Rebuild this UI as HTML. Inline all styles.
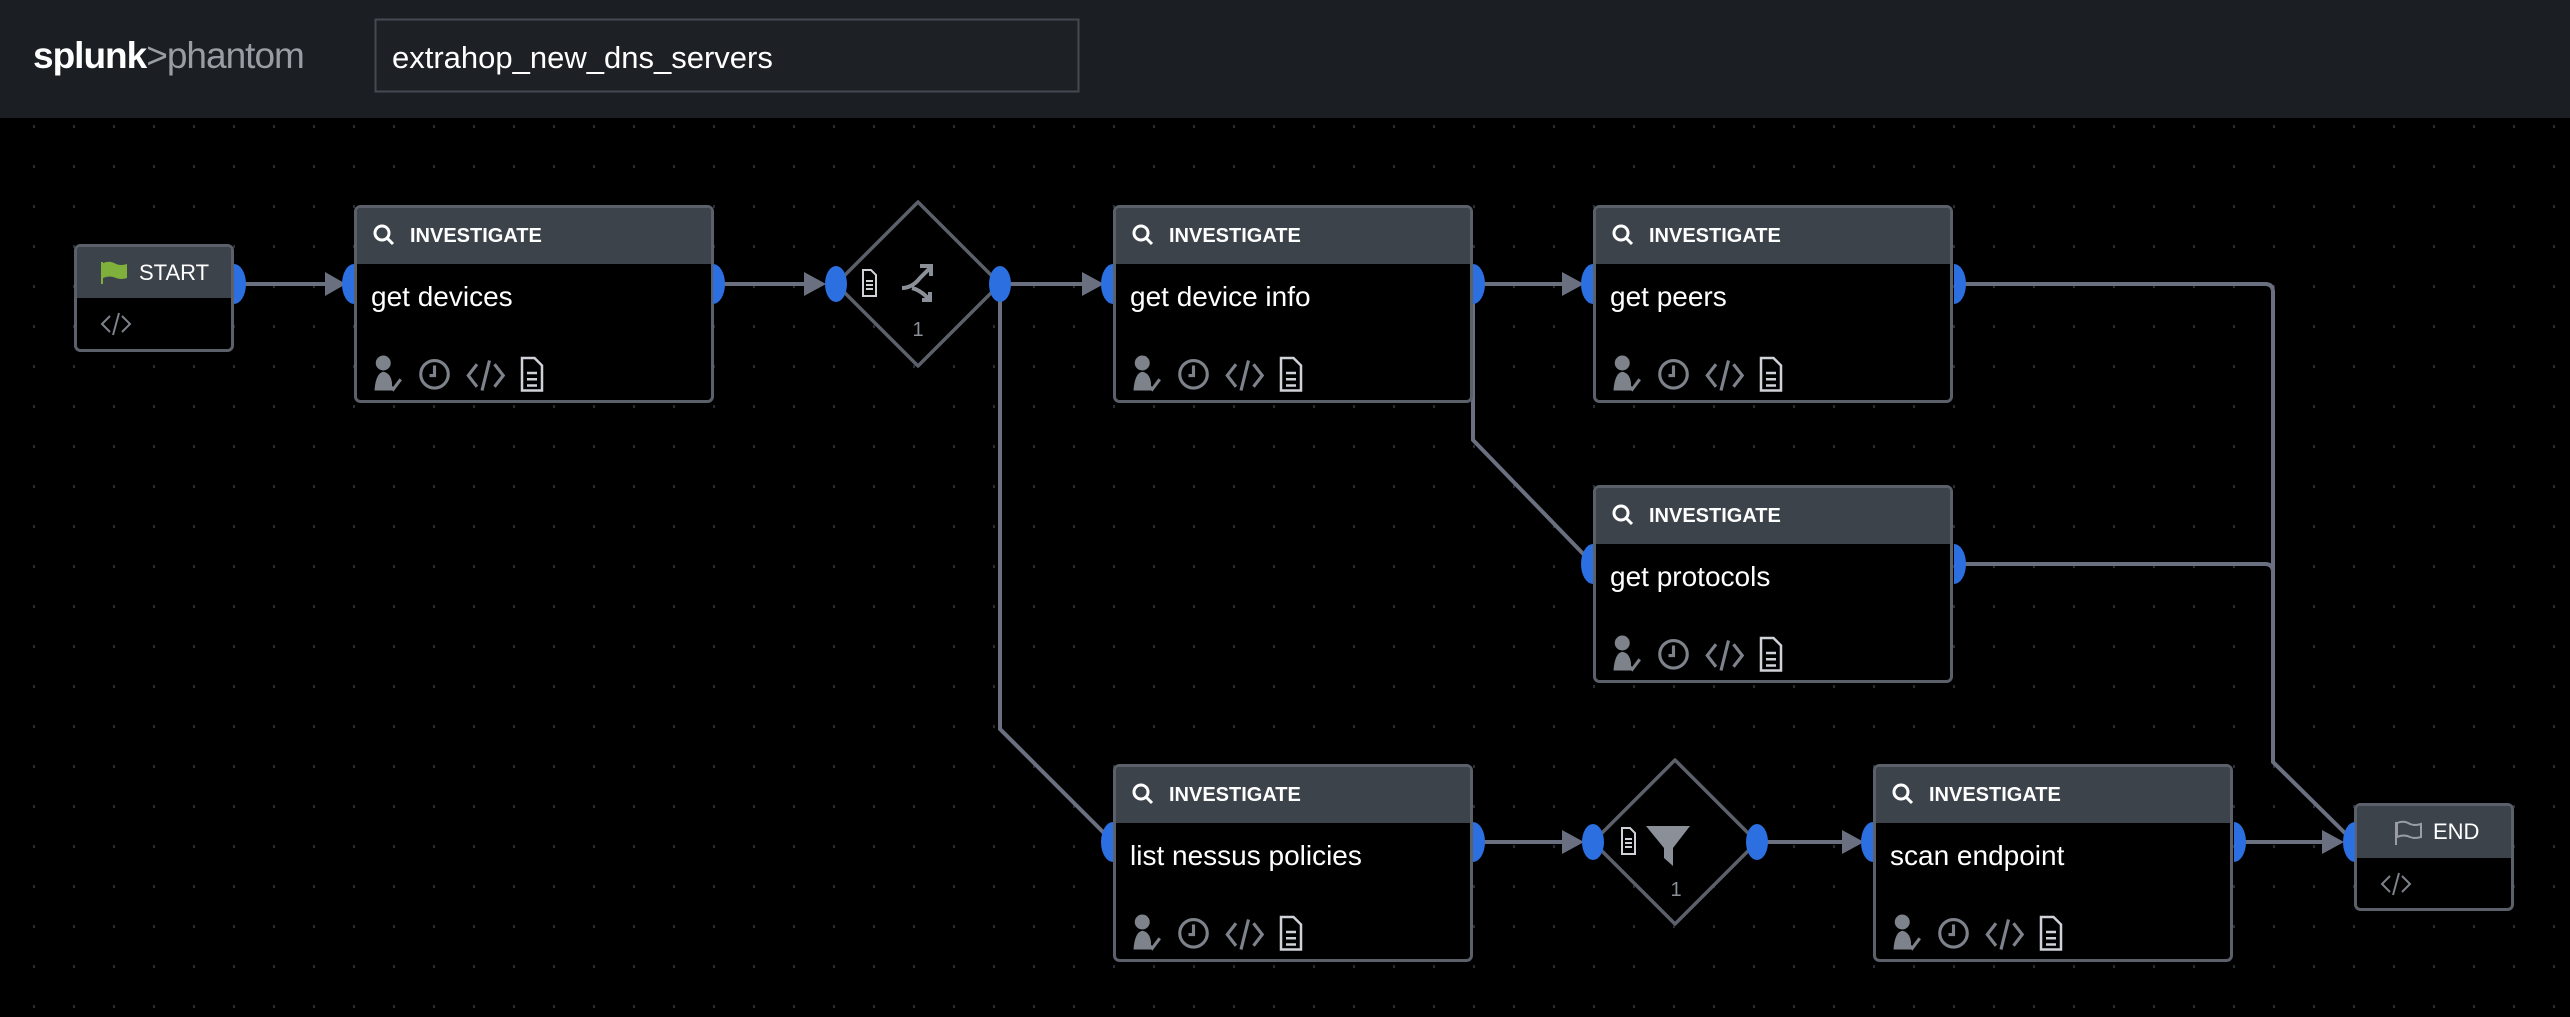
<!DOCTYPE html>
<html><head><meta charset="utf-8"><style>
html,body{margin:0;padding:0;background:#000;}
body{width:2570px;height:1012px;overflow:hidden;font-family:"Liberation Sans",sans-serif;}
</style></head><body>
<svg width="2570" height="1012" viewBox="0 0 2570 1012" xmlns="http://www.w3.org/2000/svg" font-family="Liberation Sans, sans-serif">
<defs>
<pattern id="dots" x="33" y="125" width="40" height="40" patternUnits="userSpaceOnUse">
<rect x="0" y="0" width="2" height="3" fill="#2a2d33"/>
</pattern>
<g id="icons" fill="none" stroke="#7d828b" stroke-width="2.5">
<circle cx="9" cy="8" r="6" fill="#7d828b" stroke="none"/>
<path d="M2 30 Q3 16 9 15 Q15 16 16 24 L16 30 Z" fill="#7d828b" stroke="none"/>
<path d="M13 25 L17 29 L23 21" stroke="#7d828b"/>
<circle cx="50" cy="17" r="11"/>
<path d="M50 10 L50 18 L46 18"/>
<path d="M84 9 L77 18 L84 27 M98 9 L105 18 L98 27 M94 6 L88 30"/>
<path d="M120 4 L130 4 L136 10 L136 30 L120 30 Z" stroke="#cfd2d6" stroke-width="2"/>
<path d="M124 16 H132 M124 21 H132 M124 26 H132" stroke="#cfd2d6" stroke-width="2"/>
</g>
<g id="mag" fill="none" stroke="#fff" stroke-width="3">
<circle cx="8" cy="8" r="7"/><path d="M13 13 L19 19"/>
</g>
<g id="card">
<rect x="1.5" y="1.5" width="357" height="195" rx="5" fill="#000" stroke="#5b606a" stroke-width="3"/>
<path d="M3 6 Q3 3 6 3 H354 Q357 3 357 6 V59 H3 Z" fill="#3d434b"/>
<use href="#mag" x="20" y="20"/>
<g transform="translate(18 148) scale(1.25)"><use href="#icons"/></g>
</g>
</defs>
<rect width="2570" height="1012" fill="#000"/>
<rect y="118" width="2570" height="894" fill="url(#dots)"/>
<!-- header -->
<rect width="2570" height="118" fill="#1b1e22"/>
<text x="33" y="68" font-size="37" fill="#fff" letter-spacing="-1"><tspan font-weight="bold">splunk</tspan><tspan fill="#9a9ea4">&gt;phantom</tspan></text>
<rect x="375.5" y="19.5" width="703" height="72" fill="#1d2025" stroke="#454a52" stroke-width="2"/>
<text x="392" y="68" font-size="31" fill="#fff">extrahop_new_dns_servers</text>

<!-- connectors -->
<g fill="none" stroke="#6b7080" stroke-width="4">
<path d="M234 284 H340"/>
<path d="M713 284 H822"/>
<path d="M1000 284 H1099"/>
<path d="M1473 284 H1579"/>
<path d="M1473 284 V440 L1593 564"/>
<path d="M1000 284 V729 L1113 842"/>
<path d="M1473 842 H1579"/>
<path d="M1757 842 H1859"/>
<path d="M2234 842 H2340"/>
<path d="M1954 284 H2265 Q2273 284 2273 292 V762 L2354 842"/>
<path d="M1954 564 H2265 Q2273 564 2273 572 V762"/>
</g>
<g fill="#6b7080">
<path d="M325 272 L346 284 L325 296Z"/>
<path d="M804 272 L826 284 L804 296Z"/>
<path d="M1082 272 L1104 284 L1082 296Z"/>
<path d="M1562 272 L1584 284 L1562 296Z"/>
<path d="M1562 830 L1584 842 L1562 854Z"/>
<path d="M1842 830 L1864 842 L1842 854Z"/>
<path d="M2322 830 L2344 842 L2322 854Z"/>
</g>

<!-- START -->
<rect x="75.5" y="245.5" width="157" height="105" rx="5" fill="#000" stroke="#5b606a" stroke-width="3"/>
<path d="M77 250 Q77 247 80 247 H228 Q231 247 231 250 V298 H77 Z" fill="#3d434b"/>
<path d="M102 262 V284" stroke="#7fb03c" stroke-width="2"/>
<path d="M103 263 Q110 260 116 264 Q121 266 127 264 V278 Q121 280 116 278 Q110 275 103 278Z" fill="#7fb03c"/>
<text x="139" y="280" font-size="22" fill="#fff">START</text>
<path d="M110 316 L102 324 L110 332 M122 316 L130 324 L122 332 M119 313 L113 335" fill="none" stroke="#7d828b" stroke-width="2"/>

<!-- cards -->
<use href="#card" x="354" y="205"/>
<use href="#card" x="1113" y="205"/>
<use href="#card" x="1593" y="205"/>
<use href="#card" x="1593" y="485"/>
<use href="#card" x="1113" y="764"/>
<use href="#card" x="1873" y="764"/>
<g font-size="20" font-weight="bold" fill="#fff">
<text x="410" y="242">INVESTIGATE</text>
<text x="1169" y="242">INVESTIGATE</text>
<text x="1649" y="242">INVESTIGATE</text>
<text x="1649" y="522">INVESTIGATE</text>
<text x="1169" y="801">INVESTIGATE</text>
<text x="1929" y="801">INVESTIGATE</text>
</g>
<g font-size="28" fill="#fff">
<text x="371" y="306">get devices</text>
<text x="1130" y="306">get device info</text>
<text x="1610" y="306">get peers</text>
<text x="1610" y="586">get protocols</text>
<text x="1130" y="865">list nessus policies</text>
<text x="1890" y="865">scan endpoint</text>
</g>

<!-- diamond 1 -->
<path d="M918 202 L1000 284 L918 366 L836 284Z" fill="#000" stroke="#5b606a" stroke-width="3.5" stroke-linejoin="round"/>
<path d="M863 270 L871 270 L876 275 L876 296 L863 296Z M866 281 H873 M866 285 H873 M866 289 H873" fill="none" stroke="#cfd2d6" stroke-width="2"/>
<path d="M902 288 Q912 288 920 278 L930 268 M920 266 H931 V276 M912 288 Q920 290 928 298 M922 300 L930 300 L930 292" fill="none" stroke="#8a8f98" stroke-width="4"/>
<text x="918" y="336" font-size="20" fill="#8a8f98" text-anchor="middle">1</text>
<!-- diamond 2 -->
<path d="M1675 760 L1757 842 L1675 924 L1593 842Z" fill="#000" stroke="#5b606a" stroke-width="3.5" stroke-linejoin="round"/>
<path d="M1622 828 L1630 828 L1635 833 L1635 854 L1622 854Z M1625 839 H1632 M1625 843 H1632 M1625 847 H1632" fill="none" stroke="#cfd2d6" stroke-width="2"/>
<path d="M1646 826 H1690 L1673 848 V866 L1664 858 V848Z" fill="#8a8f98"/>
<text x="1676" y="896" font-size="20" fill="#8a8f98" text-anchor="middle">1</text>

<!-- END -->
<rect x="2355.5" y="804.5" width="157" height="105" rx="5" fill="#000" stroke="#5b606a" stroke-width="3"/>
<path d="M2357 809 Q2357 806 2360 806 H2508 Q2511 806 2511 809 V858 H2357 Z" fill="#3d434b"/>
<path d="M2396 822 V845" stroke="#9a9ea4" stroke-width="2"/>
<path d="M2397 823 Q2404 820 2410 824 Q2415 826 2421 824 V837 Q2415 839 2410 837 Q2404 834 2397 837Z" fill="none" stroke="#9a9ea4" stroke-width="2"/>
<text x="2433" y="839" font-size="22" fill="#fff">END</text>
<path d="M2390 876 L2382 884 L2390 892 M2402 876 L2410 884 L2402 892 M2399 873 L2393 895" fill="none" stroke="#7d828b" stroke-width="2"/>

<!-- ports -->
<g fill="#2b6fe0">
<path d="M234 264 A12 20 0 0 1 234 304Z"/>
<path d="M354 264 A12 20 0 0 0 354 304Z"/>
<path d="M713 264 A12 20 0 0 1 713 304Z"/>
<ellipse cx="836" cy="284" rx="11" ry="18"/>
<ellipse cx="1000" cy="284" rx="11" ry="18"/>
<path d="M1113 264 A12 20 0 0 0 1113 304Z"/>
<path d="M1473 264 A12 20 0 0 1 1473 304Z"/>
<path d="M1593 264 A12 20 0 0 0 1593 304Z"/>
<path d="M1954 264 A12 20 0 0 1 1954 304Z"/>
<path d="M1593 544 A12 20 0 0 0 1593 584Z"/>
<path d="M1954 544 A12 20 0 0 1 1954 584Z"/>
<path d="M1113 822 A12 20 0 0 0 1113 862Z"/>
<path d="M1473 822 A12 20 0 0 1 1473 862Z"/>
<ellipse cx="1593" cy="842" rx="11" ry="18"/>
<ellipse cx="1757" cy="842" rx="11" ry="18"/>
<path d="M1873 822 A12 20 0 0 0 1873 862Z"/>
<path d="M2234 822 A12 20 0 0 1 2234 862Z"/>
<path d="M2355 822 A12 20 0 0 0 2355 862Z"/>
</g>
</svg>
</body></html>
